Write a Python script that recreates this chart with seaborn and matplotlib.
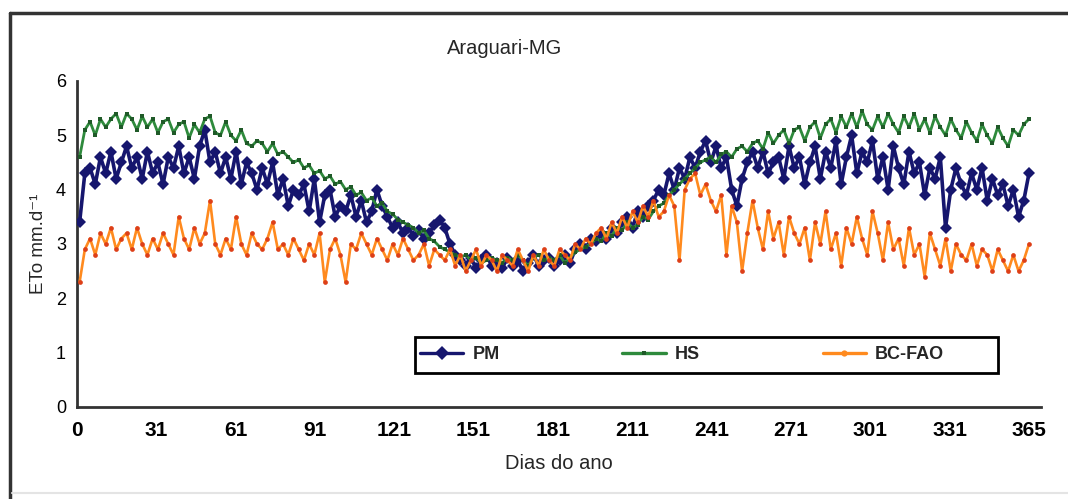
import numpy as np
import pandas as pd
import matplotlib
matplotlib.use("Agg")
import matplotlib.pyplot as plt
import seaborn as sns
from matplotlib.lines import Line2D
from matplotlib.patches import Rectangle

# ---------------- data (every second day) ----------------
days = list(range(1, 366, 2))

pm = [3.4, 4.3, 4.4, 4.1, 4.6, 4.3, 4.7, 4.2, 4.5, 4.8,
      4.4, 4.6, 4.2, 4.7, 4.3, 4.5, 4.1, 4.6, 4.4, 4.8,
      4.3, 4.6, 4.2, 4.8, 5.1, 4.5, 4.7, 4.3, 4.6, 4.2,
      4.7, 4.1, 4.5, 4.3, 4.0, 4.4, 4.1, 4.5, 3.9, 4.2,
      3.7, 4.0, 3.9, 4.1, 3.6, 4.2, 3.4, 3.9, 4.0, 3.5,
      3.7, 3.6, 3.9, 3.5, 3.8, 3.4, 3.6, 4.0, 3.7, 3.5,
      3.3, 3.4, 3.2, 3.3, 3.15, 3.25, 3.1, 3.2, 3.35, 3.45,
      3.3, 3.0, 2.8, 2.7, 2.6, 2.75, 2.55, 2.7, 2.8, 2.6,
      2.65, 2.55, 2.75, 2.6, 2.7, 2.5, 2.65, 2.8, 2.6, 2.7,
      2.75, 2.6, 2.7, 2.8, 2.65, 2.9, 3.0, 2.9, 3.1, 3.05,
      3.2, 3.1, 3.3, 3.2, 3.4, 3.5, 3.3, 3.6, 3.5, 3.7,
      3.8, 4.0, 3.9, 4.3, 4.0, 4.4, 4.2, 4.6, 4.4, 4.7,
      4.9, 4.5, 4.8, 4.4, 4.6, 4.0, 3.7, 4.2, 4.5, 4.7,
      4.4, 4.7, 4.3, 4.5, 4.6, 4.2, 4.8, 4.4, 4.6, 4.1,
      4.5, 4.8, 4.2, 4.7, 4.4, 4.9, 4.1, 4.6, 5.0, 4.3,
      4.7, 4.5, 4.9, 4.2, 4.6, 4.0, 4.8, 4.4, 4.1, 4.7,
      4.3, 4.5, 3.9, 4.4, 4.2, 4.6, 3.3, 4.0, 4.4, 4.1,
      3.9, 4.3, 4.0, 4.4, 3.8, 4.2, 3.9, 4.1, 3.7, 4.0,
      3.5, 3.8, 4.3]

hs = [4.6, 5.1, 5.25, 5.0, 5.3, 5.15, 5.3, 5.4, 5.15, 5.4,
      5.3, 5.1, 5.35, 5.15, 5.3, 5.05, 5.25, 5.3, 5.05, 5.2,
      5.25, 4.95, 5.2, 5.05, 5.3, 5.35, 5.05, 5.0, 5.25, 5.0,
      4.9, 5.1, 4.85, 4.8, 4.9, 4.85, 4.7, 4.85, 4.65, 4.7,
      4.6, 4.5, 4.55, 4.4, 4.45, 4.3, 4.35, 4.2, 4.25, 4.1,
      4.15, 4.0, 4.05, 3.9, 3.95, 3.8, 3.85, 3.7, 3.75, 3.6,
      3.55, 3.45, 3.4, 3.35, 3.3, 3.2, 3.25, 3.1, 3.05, 2.95,
      2.9, 2.85, 2.8, 2.75, 2.8, 2.7, 2.75, 2.65, 2.7, 2.75,
      2.7, 2.65, 2.75, 2.7, 2.8, 2.7, 2.6, 2.75, 2.8, 2.7,
      2.75, 2.7, 2.8, 2.65, 2.75, 2.85, 2.9, 2.95, 3.0, 3.1,
      3.05, 3.2, 3.15, 3.3, 3.25, 3.4, 3.3, 3.35, 3.5, 3.45,
      3.6, 3.7, 3.75, 3.9, 4.0, 4.1, 4.2, 4.3, 4.4, 4.5,
      4.55, 4.6, 4.5, 4.65, 4.7, 4.6, 4.75, 4.8, 4.7, 4.85,
      4.9, 4.75, 5.05, 4.85, 5.0, 5.1, 4.85, 5.1, 5.15, 4.9,
      5.15, 5.25, 4.95, 5.2, 5.3, 5.05, 5.35, 5.15, 5.4, 5.15,
      5.45, 5.2, 5.1, 5.35, 5.15, 5.4, 5.2, 5.05, 5.35, 5.15,
      5.4, 5.1, 5.3, 5.05, 5.35, 5.15, 5.0, 5.3, 5.1, 4.95,
      5.25, 5.05, 4.9, 5.2, 5.0, 4.85, 5.15, 4.95, 4.8, 5.1,
      5.0, 5.2, 5.3]

bc = [2.3, 2.9, 3.1, 2.8, 3.2, 3.0, 3.3, 2.9, 3.1, 3.2,
      2.9, 3.3, 3.0, 2.8, 3.1, 2.9, 3.2, 3.0, 2.8, 3.5,
      3.1, 2.9, 3.3, 3.0, 3.2, 3.8, 3.0, 2.8, 3.1, 2.9,
      3.5, 3.0, 2.8, 3.2, 3.0, 2.9, 3.1, 3.4, 2.9, 3.0,
      2.8, 3.1, 2.9, 2.7, 3.0, 2.8, 3.2, 2.3, 2.9, 3.1,
      2.8, 2.3, 3.0, 2.9, 3.2, 3.0, 2.8, 3.1, 2.9, 2.7,
      3.0, 2.8, 3.1, 2.9, 2.7, 2.8, 3.0, 2.6, 2.9, 2.8,
      2.7, 2.9, 2.6, 2.8, 2.5, 2.7, 2.9, 2.6, 2.8, 2.7,
      2.5, 2.8, 2.7, 2.6, 2.9, 2.7, 2.5, 2.8, 2.6, 2.9,
      2.7, 2.6, 2.9, 2.8, 2.7, 3.0, 2.9, 3.1, 3.0, 3.2,
      3.3, 3.1, 3.4, 3.2, 3.5, 3.3, 3.6, 3.4, 3.7, 3.5,
      3.8, 3.5, 3.6, 3.9, 3.7, 2.7, 4.0, 4.2, 4.3, 3.9,
      4.1, 3.8, 3.6, 3.9, 2.8, 3.7, 3.4, 2.5, 3.2, 3.8,
      3.3, 2.9, 3.6, 3.1, 3.4, 2.8, 3.5, 3.2, 3.0, 3.3,
      2.7, 3.4, 3.0, 3.6, 2.9, 3.2, 2.6, 3.3, 3.0, 3.5,
      3.1, 2.8, 3.6, 3.2, 2.7, 3.4, 2.9, 3.1, 2.6, 3.3,
      2.8, 3.0, 2.4, 3.2, 2.9, 2.6, 3.1, 2.5, 3.0, 2.8,
      2.7, 3.0, 2.6, 2.9, 2.8, 2.5, 2.9, 2.7, 2.5, 2.8,
      2.5, 2.7, 3.0]

series_names = ["PM", "HS", "BC-FAO"]
x_tick_labels = ["0", "31", "61", "91", "121", "151", "181",
                 "211", "241", "271", "301", "331", "365"]
y_ticks = [0, 1, 2, 3, 4, 5, 6]
title = "Araguari-MG"
x_label = "Dias do ano"
y_label = "ETo mm.d\u207b\u00b9"

# ---------------- style ----------------
sns.set_style("white")
plt.rcParams['font.family'] = ['Liberation Sans', 'DejaVu Sans']

c_pm = "#16166e"
c_hs = "#2e8a3c"
c_hs_mk = "#1f5a28"
c_bc = "#ff8a1e"
c_bc_mk = "#dd3f18"

fig = plt.figure(figsize=(10.68, 4.99), dpi=100)
ax = fig.add_axes([0.0721, 0.1844, 0.9026, 0.6533])

df = pd.DataFrame({"day": days, "PM": pm, "HS": hs, "BC-FAO": bc})

sns.lineplot(data=df, x="day", y="PM", ax=ax, color=c_pm, lw=2.6,
             marker="D", markersize=6.5, markeredgewidth=0,
             markerfacecolor=c_pm, zorder=3)
sns.lineplot(data=df, x="day", y="HS", ax=ax, color=c_hs, lw=2.0,
             marker="s", markersize=3.0, markeredgewidth=0,
             markerfacecolor=c_hs_mk, zorder=4)
sns.lineplot(data=df, x="day", y="BC-FAO", ax=ax, color=c_bc, lw=1.9,
             marker="o", markersize=3.4, markeredgewidth=0,
             markerfacecolor=c_bc_mk, zorder=5)

ax.set_xlim(0, 369.6)
ax.set_ylim(0, 6)
xt = [i * 365 / 12 for i in range(13)]
ax.set_xticks(xt)
ax.set_xticklabels(x_tick_labels, fontweight="bold", fontsize=15,
                   family=['Liberation Sans Narrow', 'Liberation Sans', 'DejaVu Sans'])
ax.set_yticks(y_ticks)
ax.set_yticklabels([str(v) for v in y_ticks], fontsize=13)

for s in ["top", "right"]:
    ax.spines[s].set_visible(False)
for s in ["left", "bottom"]:
    ax.spines[s].set_color("#333333")
    ax.spines[s].set_linewidth(2)
ax.tick_params(axis="both", direction="inout", length=8, width=2,
               color="#333333", labelcolor="black")
ax.tick_params(axis="x", pad=6)
ax.tick_params(axis="y", pad=4)

ax.set_xlabel(x_label, fontsize=14.5, labelpad=10)
ax.set_ylabel(y_label, fontsize=13.5, labelpad=6)
fig.text(505 / 1068, 1 - 48 / 499, title, fontsize=14.5, ha="center", va="center")

# legend: frameless entries inside a drawn box
handles = [
    Line2D([], [], color=c_pm, lw=2.4, marker="D", markersize=7, markeredgewidth=0),
    Line2D([], [], color=c_hs, lw=2.4, marker="s", markersize=3, markeredgewidth=0,
           markerfacecolor=c_hs_mk),
    Line2D([], [], color=c_bc, lw=2.4, marker="o", markersize=4.5, markeredgewidth=0,
           markerfacecolor=c_bc),
]
leg = ax.legend(handles, series_names, ncol=3, loc="center left",
                bbox_to_anchor=((420 - 77) / 964, (407 - 355) / 326),
                borderaxespad=0, borderpad=0, frameon=False, handlelength=2.4,
                handletextpad=0.5, columnspacing=6.8,
                prop={"family": ['Liberation Sans Narrow', 'Liberation Sans', 'DejaVu Sans'],
                      "weight": "bold", "size": 13})
leg.set_zorder(10)
ax.add_patch(Rectangle(((415 - 77) / 964, (407 - 373) / 326),
                       (998 - 415) / 964, 36 / 326, transform=ax.transAxes,
                       facecolor="white", edgecolor="black", lw=2, zorder=9))

# outer chart frame (top and left edges visible in reference)
fig.add_artist(Line2D([10 / 1068, 10 / 1068], [0, 1 - 13 / 499],
                      transform=fig.transFigure, color="#333333", lw=2.5))
fig.add_artist(Line2D([10 / 1068, 1], [1 - 13 / 499, 1 - 13 / 499],
                      transform=fig.transFigure, color="#333333", lw=2.5))
fig.add_artist(Line2D([12 / 1068, 1], [1 - 493 / 499, 1 - 493 / 499],
                      transform=fig.transFigure, color="#e4e4e4", lw=1.5))

fig.savefig("out.png", dpi=100)
